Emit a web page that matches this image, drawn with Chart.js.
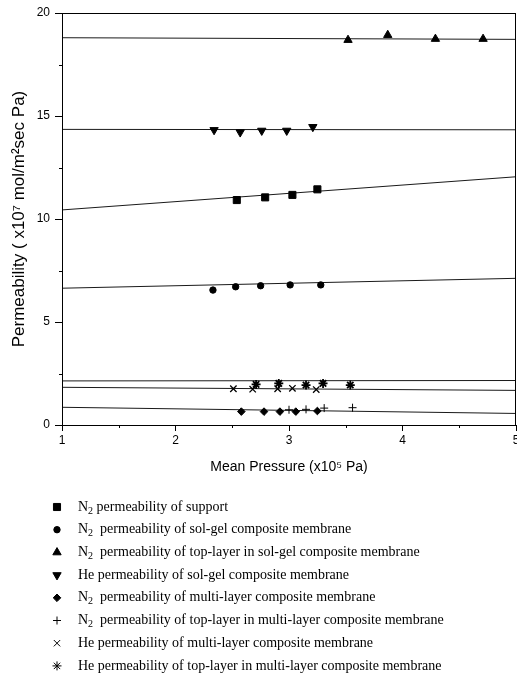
<!DOCTYPE html>
<html>
<head>
<meta charset="utf-8">
<title>Permeability vs mean pressure</title>
<script src="https://cdn.jsdelivr.net/npm/chart.js@4/dist/chart.umd.min.js"></script>
<style>
  html, body { margin: 0; padding: 0; background: #fff; }
  #wrap { width: 517px; height: 681px; position: relative; }
</style>
</head>
<body>
<div id="wrap"><canvas id="permChart"></canvas></div>
<script>
// ── DATA ─────────────────────────────────────────────────────
// fitted lines span the whole pressure axis (x10^5 Pa)
const fitX = [1, 5];
const fitSupport   = [10.44, 12.05];
const fitSolGel    = [6.64, 7.12];
const fitTopSolGel = [18.80, 18.72];
const fitHeSolGel  = [14.35, 14.33];
const fitMulti     = [0.86, 0.56];
const fitHeMulti   = [1.83, 1.68];
const fitHeTop     = [2.14, 2.16];

// measured points
const supportX   = [2.54, 2.79, 3.03, 3.25];
const supportY   = [10.92, 11.05, 11.17, 11.44];
const solGelX    = [2.33, 2.53, 2.75, 3.01, 3.28];
const solGelY    = [6.55, 6.71, 6.76, 6.80, 6.80];
const topSolGelX = [3.52, 3.87, 4.29, 4.71];
const topSolGelY = [18.69, 18.93, 18.74, 18.74];
const heSolGelX  = [2.34, 2.57, 2.76, 2.98, 3.21];
const heSolGelY  = [14.32, 14.21, 14.29, 14.29, 14.47];
const multiX     = [2.58, 2.78, 2.92, 3.06, 3.25];
const multiY     = [0.65, 0.65, 0.65, 0.65, 0.68];
const topMultiX  = [3.00, 3.15, 3.31, 3.56];
const topMultiY  = [0.74, 0.76, 0.82, 0.84];
const heMultiX   = [2.51, 2.68, 2.90, 3.03, 3.24];
const heMultiY   = [1.76, 1.74, 1.76, 1.78, 1.72];
const heTopX     = [2.71, 2.91, 3.15, 3.30, 3.54];
const heTopY     = [1.97, 2.02, 1.94, 2.02, 1.94];

const legendLabels = [
  'N₂ permeability of support',
  'N₂  permeability of sol-gel composite membrane',
  'N₂  permeability of top-layer in sol-gel composite membrane',
  'He permeability of sol-gel composite membrane',
  'N₂  permeability of multi-layer composite membrane',
  'N₂  permeability of top-layer in multi-layer composite membrane',
  'He permeability of multi-layer composite membrane',
  'He permeability of top-layer in multi-layer composite membrane',
];

const xTitle = 'Mean Pressure (x10⁵ Pa)';
const yTitle = 'Permeability ( x10⁷ mol/m²sec Pa)';

// ── HELPERS ──────────────────────────────────────────────────
const pts = (xs, ys) => xs.map((x, i) => ({ x, y: ys[i] }));

function fitLine(ys) {
  return {
    type: 'line',
    isFit: true,
    data: pts(fitX, ys),
    borderColor: '#1a1a1a',
    borderWidth: 1,
    pointRadius: 0,
    fill: false,
    order: 2,
  };
}

function markers(label, xs, ys, style, radius, extra) {
  return Object.assign({
    type: 'scatter',
    label,
    data: pts(xs, ys),
    pointStyle: style,
    pointRadius: radius,
    pointBackgroundColor: '#000',
    pointBorderColor: '#000',
    pointBorderWidth: 1,
    order: 1,
  }, extra || {});
}

// ── PLUGINS ──────────────────────────────────────────────────
const SANS = "'Liberation Sans', Arial, sans-serif";
const SERIF = "'Liberation Serif', 'Times New Roman', serif";

// box frame + short minor ticks halfway between major ones
const framePlugin = {
  id: 'frame',
  afterDraw(chart) {
    const { ctx, chartArea: a, scales } = chart;
    ctx.save();
    ctx.strokeStyle = '#000';
    ctx.lineWidth = 1;
    ctx.strokeRect(a.left + 0.5, a.top + 0.5, a.right - a.left - 1, a.bottom - a.top);

    ctx.beginPath();
    const xt = scales.x.ticks;
    for (let i = 0; i < xt.length - 1; i++) {
      const px = Math.round(scales.x.getPixelForValue((xt[i].value + xt[i + 1].value) / 2)) + 0.5;
      ctx.moveTo(px, a.bottom);
      ctx.lineTo(px, a.bottom + 3);
    }
    const yt = scales.y.ticks;
    for (let i = 0; i < yt.length - 1; i++) {
      const py = Math.round(scales.y.getPixelForValue((yt[i].value + yt[i + 1].value) / 2)) + 0.5;
      ctx.moveTo(a.left - 3, py);
      ctx.lineTo(a.left, py);
    }
    ctx.stroke();
    ctx.restore();
  }
};

// one-per-row legend under the plot, serif text with subscripts
const rowLegend = {
  id: 'rowLegend',
  afterDraw(chart) {
    const ctx = chart.ctx;
    const sets = chart.data.datasets.filter(d => !d.isFit);
    ctx.save();
    ctx.fillStyle = '#000';
    ctx.strokeStyle = '#000';
    ctx.textBaseline = 'middle';
    sets.forEach((ds, i) => {
      const y = 507 + i * 22.7;
      Chart.helpers.drawPoint(ctx, {
        pointStyle: ds.pointStyle,
        radius: ds.pointRadius,
        rotation: ds.pointRotation || 0,
        borderWidth: 1,
      }, 57, y);

      let x = 78;
      for (const ch of legendLabels[i]) {
        if (ch === '₂') {
          ctx.font = '10px ' + SERIF;
          ctx.fillText('2', x, y + 4);
          x += ctx.measureText('2').width;
        } else {
          ctx.font = '14px ' + SERIF;
          ctx.fillText(ch, x, y);
          x += ctx.measureText(ch).width;
        }
      }
    });
    ctx.restore();
  }
};

// ── CHART ────────────────────────────────────────────────────
const chartEl = document.getElementById('permChart');

new Chart(chartEl, {
  type: 'scatter',
  data: {
    datasets: [
      fitLine(fitTopSolGel),
      fitLine(fitHeSolGel),
      fitLine(fitSupport),
      fitLine(fitSolGel),
      fitLine(fitHeTop),
      fitLine(fitHeMulti),
      fitLine(fitMulti),
      markers(legendLabels[0], supportX, supportY, 'rect', 5),
      markers(legendLabels[1], solGelX, solGelY, 'circle', 3.2),
      markers(legendLabels[2], topSolGelX, topSolGelY, 'triangle', 4.8),
      markers(legendLabels[3], heSolGelX, heSolGelY, 'triangle', 4.8, { pointRotation: 180 }),
      markers(legendLabels[4], multiX, multiY, 'rectRot', 3.8),
      markers(legendLabels[5], topMultiX, topMultiY, 'cross', 4),
      markers(legendLabels[6], heMultiX, heMultiY, 'crossRot', 4.5, { pointBorderWidth: 1.3 }),
      markers(legendLabels[7], heTopX, heTopY, 'star', 4.5, { pointBorderWidth: 1.8 }),
    ]
  },
  options: {
    responsive: true,
    maintainAspectRatio: false,
    animation: false,
    layout: { autoPadding: false, padding: { top: 13, right: 1, left: 0, bottom: 200 } },
    plugins: {
      legend: { display: false },
      tooltip: { enabled: false },
    },
    scales: {
      x: {
        type: 'linear',
        min: 1,
        max: 5,
        afterFit(scale) {
          scale.height = 56;
          scale.paddingLeft = 0;
          scale.paddingRight = 0;
        },
        ticks: {
          stepSize: 1,
          padding: 2,
          color: '#000',
          font: { family: SANS, size: 12 },
        },
        grid: { drawOnChartArea: false, tickLength: 6, color: '#000' },
        border: { display: true, color: '#000', width: 1 },
        title: {
          display: true,
          text: xTitle,
          color: '#000',
          font: { family: SANS, size: 14 },
          padding: { top: 0, bottom: 5 },
        },
      },
      y: {
        type: 'linear',
        min: 0,
        max: 20,
        afterFit(scale) {
          scale.width = 62;
        },
        ticks: {
          stepSize: 5,
          padding: 5,
          color: '#000',
          font: { family: SANS, size: 12 },
        },
        grid: { drawOnChartArea: false, tickLength: 7, color: '#000' },
        border: { display: true, color: '#000', width: 1 },
        title: {
          display: true,
          text: yTitle,
          color: '#000',
          font: { family: SANS, size: 17 },
          padding: { top: 9, bottom: 0 },
        },
      },
    },
  },
  plugins: [framePlugin, rowLegend],
});
</script>
</body>
</html>
